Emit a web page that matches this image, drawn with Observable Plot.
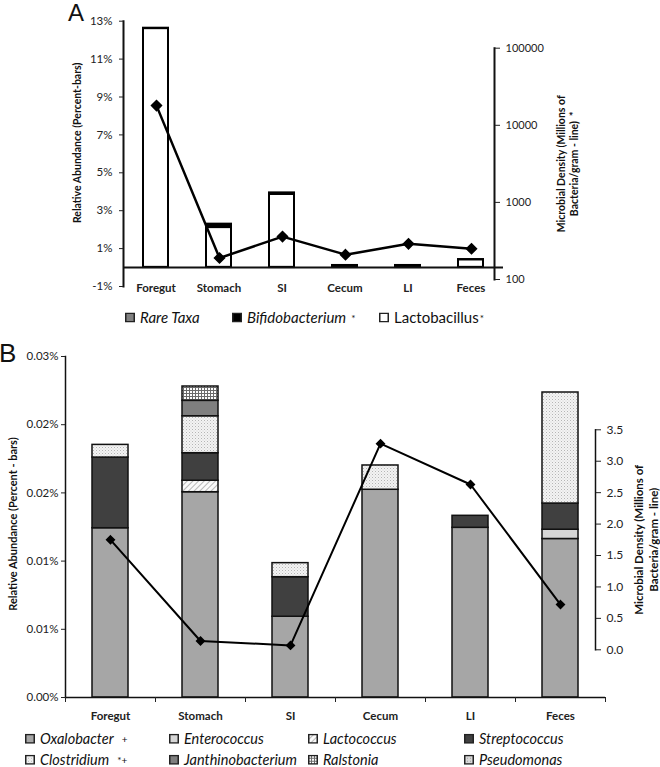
<!DOCTYPE html>
<html><head><meta charset="utf-8">
<script src="https://cdn.jsdelivr.net/npm/d3@7"></script>
<script src="https://cdn.jsdelivr.net/npm/@observablehq/plot@0.6"></script>
<style>
body{margin:0;background:#fff;}
#wrap{position:relative;width:660px;height:767px;overflow:hidden;font-family:Lato,"Open Sans",sans-serif;color:#111;background:#fff;}
#wrap svg.chart{position:absolute;left:0;top:0;}
.letter{position:absolute;font-family:"Liberation Sans",Arial,sans-serif;line-height:1;color:#111;}
.leg{position:absolute;display:flex;align-items:center;white-space:nowrap;font-size:14.5px;line-height:1;transform:translateY(-50%);}
.leg svg{margin-right:5px;}
.sup{font-size:10px;font-style:normal;}
</style></head><body>
<svg width="0" height="0" style="position:absolute;left:0;top:0">
 <defs>
  <pattern id="pClos" width="3" height="3" patternUnits="userSpaceOnUse"><rect width="3" height="3" fill="#f3f3f3"/><rect width="1" height="1" fill="#b5b5b5"/><rect x="1.5" y="1.5" width="1" height="1" fill="#d0d0d0"/></pattern>
  <pattern id="pLac" width="4" height="4" patternUnits="userSpaceOnUse" patternTransform="rotate(45)"><rect width="4" height="4" fill="#fafafa"/><line x1="0" y1="0" x2="0" y2="4" stroke="#9a9a9a" stroke-width="1.4"/></pattern>
  <pattern id="pRal" width="3" height="3" patternUnits="userSpaceOnUse"><rect width="3" height="3" fill="#fdfdfd"/><rect width="3" height="1" fill="#6a6a6a"/><rect width="1" height="3" fill="#6a6a6a"/></pattern>
  <pattern id="pPseu" width="3" height="3" patternUnits="userSpaceOnUse"><rect width="3" height="3" fill="#d8d8d8"/><rect width="1" height="1" fill="#a0a0a0"/></pattern>
 </defs>
</svg>
<div id="wrap"></div>
<script>
// ---------- DATA ----------
const categories = ["Foregut", "Stomach", "SI", "Cecum", "LI", "Feces"];

// Panel A: relative abundance (%), stacked bars
const rareTaxaA       = [0.01, 0.01, 0.01, 0.01, 0.01, 0.01];
const lactobacillusA  = [12.6, 2.1, 3.85, 0.02, 0.02, 0.4];
const bifidobacteriumA= [0.02, 0.18, 0.08, 0.08, 0.08, 0.01];
// Panel A: microbial density (millions of bacteria/gram), log axis
const densityA = [18000, 190, 360, 210, 290, 250];
const ticksALeft  = [-1, 1, 3, 5, 7, 9, 11, 13];
const ticksARight = [100, 1000, 10000, 100000];

// Panel B: relative abundance (%), stacked bars
const oxalobacter       = [0.01241, 0.01505, 0.00592, 0.01523, 0.01244, 0.01162];
const enterococcus      = [0, 0, 0, 0, 0, 0.00068];
const lactococcus       = [0, 0.00084, 0, 0, 0, 0];
const streptococcus     = [0.00518, 0.00202, 0.00290, 0, 0.00088, 0.00192];
const clostridium       = [0.00093, 0.00271, 0.00103, 0.00178, 0, 0.00814];
const janthinobacterium = [0, 0.00113, 0, 0, 0, 0];
const ralstonia         = [0, 0.00105, 0, 0, 0, 0];
const pseudomonas       = [0, 0, 0, 0, 0, 0];
// Panel B: microbial density (millions of bacteria/gram)
const densityB = [1.75, 0.14, 0.07, 3.28, 2.63, 0.72];
const ticksBLeft = [0, 0.005, 0.01, 0.015, 0.02, 0.025];
const tickLabelsBLeft = ["0.00%", "0.01%", "0.01%", "0.02%", "0.02%", "0.03%"];
const ticksBRight = [0, 0.5, 1, 1.5, 2, 2.5, 3, 3.5];

// ---------- STYLE ----------
const seriesA = ["Rare Taxa", "Lactobacillus", "Bifidobacterium"];
const fillsA  = ["#808080", "#ffffff", "#000000"];
const seriesBNames = ["Oxalobacter","Enterococcus","Lactococcus","Streptococcus","Clostridium","Janthinobacterium","Ralstonia","Pseudomonas"];
const seriesBValues = [oxalobacter, enterococcus, lactococcus, streptococcus, clostridium, janthinobacterium, ralstonia, pseudomonas];
const fillsB = ["#a6a6a6", "#d6d6d6", "url(#pLac)", "#404040", "url(#pClos)", "#7f7f7f", "url(#pRal)", "url(#pPseu)"];

const W = 660, H = 767;
const font = "Lato, 'Open Sans', sans-serif";
const wrap = document.getElementById("wrap");
function add(svg){ svg.classList.add("chart"); wrap.appendChild(svg); }

// ---------- PANEL A ----------
const dataA = [];
[rareTaxaA, lactobacillusA, bifidobacteriumA].forEach((arr, s) => {
  categories.forEach((c, i) => dataA.push({cat: c, series: seriesA[s], value: arr[i]}));
});
const lineA = categories.map((c, i) => ({cat: c, value: densityA[i]}));

const A_left = 123, A_right = 503;
add(Plot.plot({
  width: W, height: H,
  marginLeft: A_left, marginRight: W - A_right, marginTop: 20.7, marginBottom: H - 286,
  style: {background: "transparent", fontFamily: font, fontSize: "11px", color: "#222"},
  x: {domain: categories, paddingInner: 0.6, paddingOuter: 0.3, label: null},
  y: {domain: [-1, 13], label: null},
  color: {domain: seriesA, range: fillsA},
  marks: [
    Plot.barY(dataA, Plot.stackY({x: "cat", y: "value", fill: "series", stroke: "#000", strokeWidth: 2})),
    Plot.ruleY([0], {stroke: "#111", strokeWidth: 2}),
    Plot.frame({anchor: "left", stroke: "#111", strokeWidth: 2}),
    Plot.axisY({ticks: ticksALeft, tickFormat: d => d + "%", tickSize: 4, tickPadding: 7, label: null, fontSize: 11.5}),
    Plot.axisX({tickSize: 0, tickPadding: -3, label: null, fontWeight: "bold", fontSize: 11.5}),
    Plot.text(["Relative Abundance (Percent-bars)"], {frameAnchor: "left", textAnchor: "middle", text: d => d, rotate: -90, dx: -46, dy: -11, fontWeight: "bold", fontSize: 10.5, fill: "#111"})
  ]
}));

const A2_axis = 494;
add(Plot.plot({
  width: W, height: H,
  marginLeft: A_left, marginRight: W - A2_axis, marginTop: 47.7, marginBottom: H - 279,
  style: {background: "transparent", fontFamily: font, fontSize: "11px", color: "#222"},
  x: {domain: categories, range: [A_left, A_right], paddingInner: 0.6, paddingOuter: 0.3, axis: null},
  y: {type: "log", domain: [100, 100000], axis: null},
  marks: [
    Plot.line(lineA, {x: "cat", y: "value", stroke: "#000", strokeWidth: 2.5}),
    Plot.dot(lineA, {x: "cat", y: "value", symbol: "diamond2", r: 4.5, fill: "#000", stroke: "#000"}),
    Plot.frame({anchor: "right", stroke: "#111", strokeWidth: 2}),
    Plot.axisY({anchor: "right", ticks: ticksARight, tickFormat: d => String(d), tickSize: 5, tickPadding: 6, label: null, fontSize: 11}),
    Plot.text(["Microbial Density (Millions of\nBacteria/gram - line)  *"], {frameAnchor: "right", textAnchor: "middle", text: d => d, rotate: -90, dx: 73, lineHeight: 1.25, fontWeight: "bold", fontSize: 10.5, fill: "#111"})
  ]
}));

// ---------- PANEL B ----------
const dataB = [];
seriesBValues.forEach((arr, s) => {
  categories.forEach((c, i) => { if (arr[i] > 0) dataB.push({cat: c, series: seriesBNames[s], value: arr[i]}); });
});
const lineB = categories.map((c, i) => ({cat: c, value: densityB[i]}));

const B_left = 65, B_right = 605, B_step = (B_right - B_left) / categories.length;
add(Plot.plot({
  width: W, height: H,
  marginLeft: B_left, marginRight: W - B_right, marginTop: 356, marginBottom: H - 697,
  style: {background: "transparent", fontFamily: font, fontSize: "11px", color: "#222"},
  x: {domain: categories, paddingInner: 0.6, paddingOuter: 0.3, label: null},
  y: {domain: [0, 0.025], label: null},
  color: {domain: seriesBNames, range: fillsB},
  marks: [
    Plot.barY(dataB, Plot.stackY({x: "cat", y: "value", fill: "series", stroke: "#111", strokeWidth: 1.5})),
    Plot.ruleY([0], {stroke: "#111", strokeWidth: 1.5}),
    Plot.frame({anchor: "left", stroke: "#111", strokeWidth: 1.5}),
    Plot.axisY({ticks: ticksBLeft, tickFormat: d => tickLabelsBLeft[ticksBLeft.indexOf(d)], tickSize: 4, tickPadding: 3, label: null, fontSize: 11.5}),
    Plot.axisX({tickSize: 5, tickFormat: () => "", dx: -B_step / 2, label: null}),
    Plot.axisX({tickSize: 5, tickFormat: () => "", dx: B_step / 2, label: null}),
    Plot.axisX({tickSize: 0, tickPadding: 14, label: null, fontWeight: "bold", fontSize: 11.5}),
    Plot.text(["Relative Abundance (Percent - bars)"], {frameAnchor: "left", textAnchor: "middle", text: d => d, rotate: -90, dx: -52, dy: -3, fontWeight: "bold", fontSize: 11, fill: "#111"})
  ]
}));

const B2_axis = 595;
add(Plot.plot({
  width: W, height: H,
  marginLeft: B_left, marginRight: W - B2_axis, marginTop: 429.3, marginBottom: H - 649.3,
  style: {background: "transparent", fontFamily: font, fontSize: "11px", color: "#222"},
  x: {domain: categories, range: [B_left, B_right], paddingInner: 0.6, paddingOuter: 0.3, axis: null},
  y: {domain: [0, 3.5], axis: null},
  marks: [
    Plot.line(lineB, {x: "cat", y: "value", stroke: "#000", strokeWidth: 2}),
    Plot.dot(lineB, {x: "cat", y: "value", symbol: "diamond2", r: 3.5, fill: "#000", stroke: "#000"}),
    Plot.frame({anchor: "right", stroke: "#111", strokeWidth: 1.5}),
    Plot.axisY({anchor: "right", ticks: ticksBRight, tickFormat: d3.format(".1f"), tickSize: 5, tickPadding: 6, label: null, fontSize: 12}),
    Plot.text(["Microbial Density (Millions of\nBacteria/gram - line)"], {frameAnchor: "right", textAnchor: "middle", text: d => d, rotate: -90, dx: 50.5, lineHeight: 1.3, fontWeight: "bold", fontSize: 11.5, fill: "#111"})
  ]
}));

// ---------- LETTERS & LEGENDS ----------
function letter(t, x, y, size){
  const d = document.createElement("div"); d.className = "letter"; d.textContent = t;
  d.style.left = x + "px"; d.style.top = y + "px"; d.style.fontSize = size + "px"; wrap.appendChild(d);
}
letter("A", 68, 1, 24);
letter("B", -1, 340, 26);

function swatch(fill, border){
  return `<svg width="10" height="10"><rect x="0.75" y="0.75" width="8.5" height="8.5" fill="${fill}" stroke="${border}" stroke-width="1.5"/></svg>`;
}
function legendItem(x, y, fill, label, italic, suffix, gap, size){
  const d = document.createElement("div"); d.className = "leg";
  d.style.left = x + "px"; d.style.top = y + "px"; if (size) d.style.fontSize = size + "px";
  d.innerHTML = swatch(fill, "#222") + `<span style="font-style:${italic ? "italic" : "normal"}">${label}</span>` + (suffix ? `<span class="sup" style="margin-left:${gap}px">${suffix}</span>` : "");
  wrap.appendChild(d);
}
// Legend A
const legendA = [
  {x: 125, fill: fillsA[0], label: "Rare Taxa", italic: true, suffix: "", gap: 0},
  {x: 232, fill: fillsA[2], label: "Bifidobacterium", italic: true, suffix: "*", gap: 5},
  {x: 379, fill: fillsA[1], label: "Lactobacillus", italic: false, suffix: "*", gap: 1}
];
legendA.forEach(l => legendItem(l.x, 317, l.fill, l.label, l.italic, l.suffix, l.gap, 15));
// Legend B
const legendBCols = [25, 169, 308, 464];
const legendBRows = [739, 760];
const legendBSuffix = {"Oxalobacter": "+", "Clostridium": "*+"};
seriesBNames.forEach((name, k) => {
  legendItem(legendBCols[k % 4], legendBRows[Math.floor(k / 4)], fillsB[k], name, true, legendBSuffix[name] || "", 8, 14.5);
});
</script>
</body></html>
